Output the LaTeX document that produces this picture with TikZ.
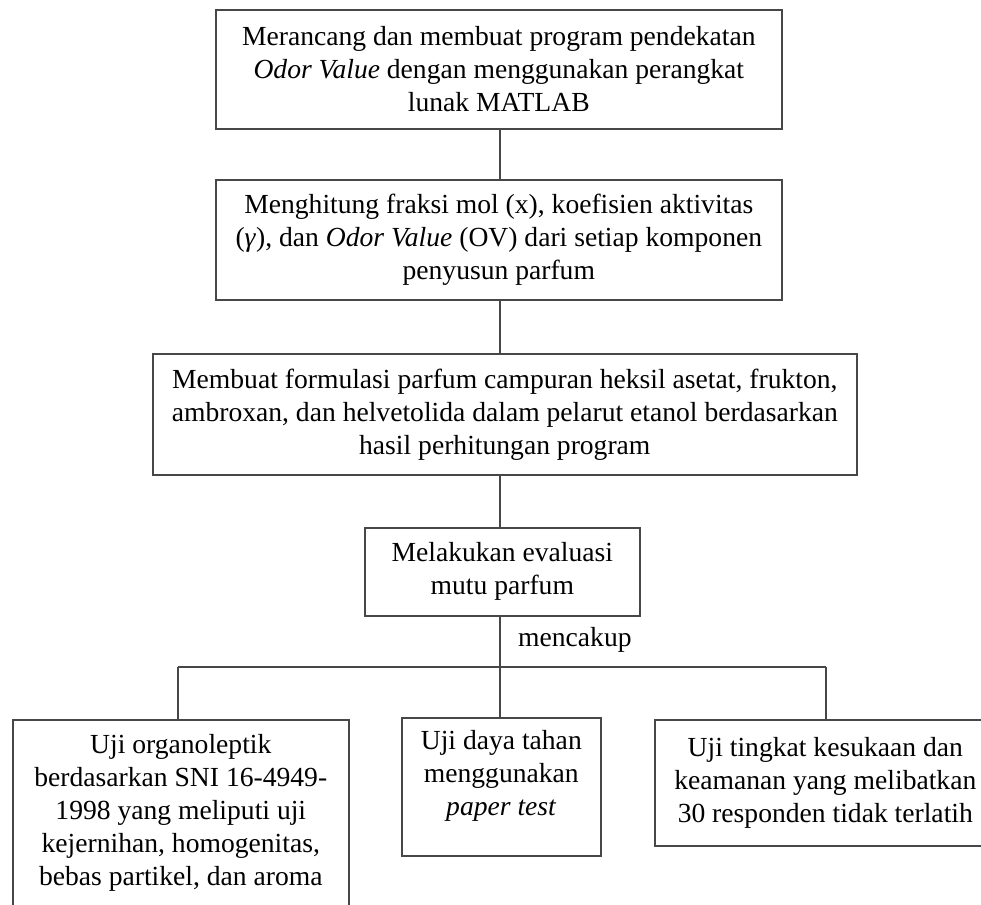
\documentclass[tikz,border=0pt]{standalone}
\usepackage{fontspec}
\setmainfont{Liberation Serif}
\tikzset{
  box/.style={draw=black!72, line width=1.6pt, align=center, inner sep=0pt,
              font=\fontsize{27.6}{33}\selectfont},
  txt/.style={align=center, inner sep=0pt, font=\fontsize{27.6}{33}\selectfont},
  conn/.style={draw=black!72, line width=1.6pt}
}
\begin{document}
\begin{tikzpicture}[x=1pt,y=-1pt]
\useasboundingbox (0,0) rectangle (981,904);
\fill[white] (0,0) rectangle (981,904);

\node[box, minimum width=566, minimum height=119, anchor=north west] (b1) at (215,9)
  {Merancang dan membuat program pendekatan\\ \textit{Odor Value} dengan menggunakan perangkat\\ lunak MATLAB};
\node[box, minimum width=566, minimum height=120, anchor=north west] (b2) at (215,179)
  {Menghitung fraksi mol (x), koefisien aktivitas\\ (\textit{γ}), dan \textit{Odor Value} (OV) dari setiap komponen\\ penyusun parfum};
\node[box, minimum width=704, minimum height=121, anchor=north west] (b3) at (152,353)
  {Membuat formulasi parfum campuran heksil asetat, frukton,\\ ambroxan, dan helvetolida dalam pelarut etanol berdasarkan\\ hasil perhitungan program};
\node[box, minimum width=275, minimum height=88, anchor=north west] (b4) at (364,527)
  {Melakukan evaluasi\\ mutu parfum};
\node[box, minimum width=336, minimum height=186, anchor=north west] (b5) at (12,719)
  {Uji organoleptik\\ berdasarkan SNI 16-4949-\\ 1998 yang meliputi uji\\ kejernihan, homogenitas,\\ bebas partikel, dan aroma};
\node[box, minimum width=199, minimum height=138, anchor=north west] (b6) at (401,717) {};
\node[txt, anchor=north] (t6) at ([yshift=-13]b6.north)
  {Uji daya tahan\\ menggunakan\\ \textit{paper test}};
\node[box, minimum width=341, minimum height=126, anchor=north west] (b7) at (654,719)
  {Uji tingkat kesukaan dan\\ keamanan yang melibatkan\\ 30 responden tidak terlatih};

\coordinate (spine) at (500,0);
\coordinate (split) at (500,667);
\coordinate (lft) at (178,667);
\coordinate (rgt) at (826,667);

\draw[conn] (b1.south -| spine) -- (b2.north -| spine);
\draw[conn] (b2.south -| spine) -- (b3.north -| spine);
\draw[conn] (b3.south -| spine) -- (b4.north -| spine);
\draw[conn] (b4.south -| spine) -- (split);
\draw[conn] (lft) -- (rgt);
\draw[conn] (lft) -- (b5.north -| lft);
\draw[conn] (split) -- (b6.north -| split);
\draw[conn] (rgt) -- (b7.north -| rgt);

\node[txt, anchor=base west] (lab) at (518,646) {mencakup};
\end{tikzpicture}
\end{document}
